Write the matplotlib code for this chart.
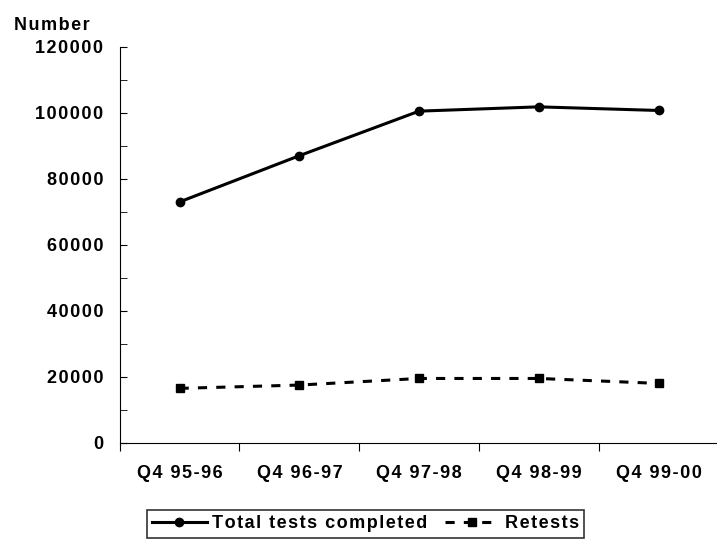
import matplotlib.pyplot as plt

categories = ["Q4 95-96", "Q4 96-97", "Q4 97-98", "Q4 98-99", "Q4 99-00"]
total_tests = [73000, 87000, 100500, 101800, 100700]
retests = [16500, 17500, 19500, 19500, 18000]

plt.rcParams['font.family'] = ['Liberation Sans', 'DejaVu Sans']
plt.rcParams['font.weight'] = 'bold'


def spaced(s):
    # the original chart uses wide letter spacing
    return "\u200a".join(s)


fig = plt.figure(figsize=(7.17, 5.44), dpi=100)
ax = fig.add_axes([0.167, 0.186, 0.835, 0.728])

x = [i + 0.5 for i in range(len(categories))]
ax.plot(x, total_tests, color='black', lw=2.2, marker='o', ms=6, label=spaced('Total tests completed'))
ax.plot(x, retests, color='black', lw=2.2, ls=(0, (3, 3)), marker='s', ms=6, label=spaced('Retests'))

ax.set_xlim(0, 5)
ax.set_ylim(0, 120000)
ax.set_yticks(range(0, 120001, 20000))
ax.set_yticklabels([spaced(str(v)) for v in range(0, 120001, 20000)], fontsize=13, fontweight='bold')
ax.set_yticks(range(0, 120001, 10000), minor=True)
ax.set_xticks(range(0, 6))
ax.set_xticklabels([])
ax.set_xticks(x, minor=True)
ax.set_xticklabels([spaced(c) for c in categories], minor=True, fontsize=13, fontweight='bold')
ax.tick_params(axis='x', which='minor', length=0, pad=16)
ax.tick_params(axis='x', which='major', direction='out', length=6)
ax.tick_params(axis='y', which='both', direction='in', length=5)
ax.tick_params(axis='y', which='major', pad=12)
ax.spines['top'].set_visible(False)
ax.spines['right'].set_visible(False)

fig.text(0.02, 0.945, spaced("Number"), fontsize=13, fontweight='bold')

leg = fig.legend(loc='lower center', bbox_to_anchor=(0.51, -0.005), ncol=2, frameon=True,
                 fancybox=False, edgecolor='black', fontsize=13, handlelength=3,
                 columnspacing=1.0, borderpad=0.3, handletextpad=0.3)
leg.get_frame().set_linewidth(1.2)

fig.savefig("out.png", dpi=100)
